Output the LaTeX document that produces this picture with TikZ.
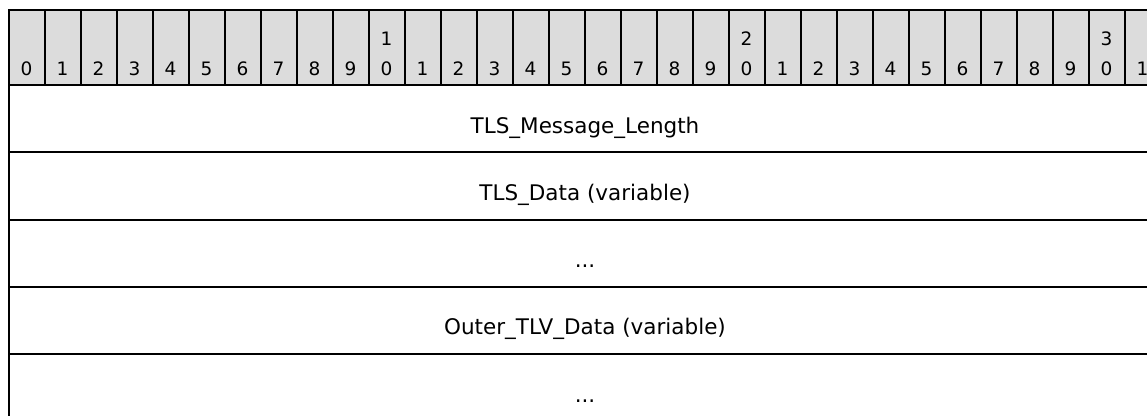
\documentclass[tikz,border=0pt]{standalone}
\usepackage{fontspec}
\setmainfont{DejaVu Sans}
\usetikzlibrary{calc}
\definecolor{hdrgray}{RGB}{220,220,220}
\begin{document}
\begin{tikzpicture}[x=1pt,y=1pt,
  hcell/.style={draw, line width=2pt, fill=hdrgray, minimum width=36pt, minimum height=75pt, inner sep=0pt, outer sep=0pt},
  hnum/.style={font=\fontsize{18.5}{20}\selectfont, inner sep=0pt, anchor=base},
  rowbox/.style={draw, line width=2pt, minimum width=1152pt, minimum height=67.25pt, inner sep=0pt, outer sep=0pt},
  rowtxt/.style={font=\fontsize{21.5}{24}\selectfont, inner sep=0pt, anchor=base}]
\useasboundingbox (0,0) rectangle (1147,-415);
\clip (0,0) rectangle (1147,-415);
\foreach \i in {0,...,31} {
  \pgfmathtruncatemacro{\myunits}{mod(\i,10)}
  \pgfmathtruncatemacro{\mytens}{div(\i,10)}
  \node[hcell] (h\i) at ({27+36*\i},-47.5) {};
  \node[hnum] (hu\i) at ({26.5+36*\i},-75.5) {\myunits};
  \ifnum\i>9 \ifnum\myunits=0 \node[hnum] (ht\i) at ({26.5+36*\i},-45.5) {\mytens}; \fi\fi
}
\node[rowbox] (r1) at (585,-118.625) {};
\node[rowbox] (r2) at (585,-185.875) {};
\node[rowbox] (r3) at (585,-253.125) {};
\node[rowbox] (r4) at (585,-320.375) {};
\node[rowbox] (r5) at (585,-387.625) {};
\node[rowtxt] (t1) at ($(r1.center)+(0,-14.5)$) {TLS\_Message\_Length};
\node[rowtxt] (t2) at ($(r2.center)+(0,-14.5)$) {TLS\_Data (variable)};
\node[rowtxt] (t3) at ($(r3.center)+(0,-14.5)$) {...};
\node[rowtxt] (t4) at ($(r4.center)+(0,-14.5)$) {Outer\_TLV\_Data (variable)};
\node[rowtxt] (t5) at ($(r5.center)+(0,-14.5)$) {...};
\end{tikzpicture}
\end{document}
